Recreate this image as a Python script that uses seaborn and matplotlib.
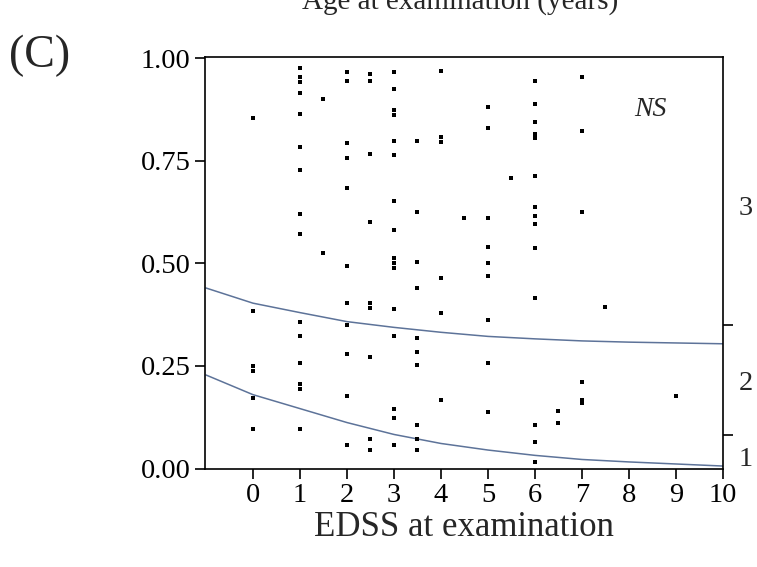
import matplotlib
matplotlib.use("Agg")
import matplotlib.pyplot as plt
import seaborn as sns
import pandas as pd

# ---- data ----
edss_points = (
    [0] * 6 + [1] * 15 + [1.5] * 2 + [2] * 11 + [2.5] * 9 + [3] * 16 + [3.5] * 10
    + [4] * 6 + [4.5] * 1 + [5] * 9 + [5.5] * 1 + [6] * 14 + [6.5] * 2 + [7] * 6
    + [7.5] * 1 + [9] * 1
)
ratio_points = [
    0.855, 0.384, 0.250, 0.238, 0.173, 0.096,
    0.976, 0.955, 0.942, 0.915, 0.863, 0.783, 0.728, 0.621, 0.571, 0.358, 0.323, 0.258, 0.207, 0.193, 0.096,
    0.900, 0.526,
    0.966, 0.945, 0.793, 0.758, 0.683, 0.494, 0.404, 0.350, 0.278, 0.177, 0.057,
    0.961, 0.945, 0.767, 0.601, 0.404, 0.392, 0.272, 0.071, 0.045,
    0.966, 0.924, 0.874, 0.862, 0.798, 0.764, 0.652, 0.581, 0.512, 0.500, 0.488, 0.389, 0.323, 0.146, 0.122, 0.057,
    0.798, 0.626, 0.504, 0.439, 0.317, 0.283, 0.252, 0.106, 0.071, 0.045,
    0.970, 0.809, 0.795, 0.465, 0.378, 0.167,
    0.611,
    0.880, 0.829, 0.611, 0.540, 0.500, 0.470, 0.363, 0.258, 0.137,
    0.707,
    0.945, 0.889, 0.844, 0.815, 0.806, 0.712, 0.637, 0.616, 0.596, 0.537, 0.415, 0.106, 0.065, 0.015,
    0.140, 0.110,
    0.954, 0.823, 0.626, 0.211, 0.167, 0.159,
    0.393,
    0.176,
]

curve_x = [-1, 0, 1, 2, 3, 4, 5, 6, 7, 8, 9, 10]
curve_upper = [0.440, 0.403, 0.380, 0.358, 0.344, 0.332, 0.322, 0.316, 0.311, 0.308, 0.306, 0.304]
curve_lower = [0.228, 0.180, 0.146, 0.112, 0.083, 0.061, 0.045, 0.032, 0.022, 0.016, 0.011, 0.006]

x_ticks = [0, 1, 2, 3, 4, 5, 6, 7, 8, 9, 10]
y_ticks = [0.00, 0.25, 0.50, 0.75, 1.00]
y_tick_labels = ["0.00", "0.25", "0.50", "0.75", "1.00"]
right_ticks = [0.081, 0.35]
right_label_pos = [0.03, 0.215, 0.64]
right_labels = ["1", "2", "3"]

# ---- styling ----
sns.set_style("ticks")
plt.rcParams["font.family"] = ["Liberation Serif", "DejaVu Serif"]

fig = plt.figure(figsize=(7.57, 5.67), dpi=100)
ax = fig.add_axes([205 / 757, 1 - 468.5 / 567, (723 - 205) / 757, (468.5 - 57) / 567])

pts = pd.DataFrame({"edss": edss_points, "ratio": ratio_points})
curves = pd.DataFrame({
    "x": curve_x * 2,
    "p": curve_upper + curve_lower,
    "which": ["upper"] * len(curve_x) + ["lower"] * len(curve_x),
})

sns.lineplot(data=curves, x="x", y="p", units="which", estimator=None,
             color="#5d7399", linewidth=1.1, ax=ax)
sns.scatterplot(data=pts, x="edss", y="ratio", marker="s", s=10,
                color="black", linewidth=0, ax=ax, zorder=3)

ax.set_xlim(-1.02, 10.0)
ax.set_ylim(0.0, 1.003)
ax.set_xticks(x_ticks)
ax.set_xticklabels([str(t) for t in x_ticks])
ax.set_yticks(y_ticks)
ax.set_yticklabels(y_tick_labels)
ax.tick_params(axis="both", labelsize=20.5, length=7.5, width=1.2, color="black",
               labelcolor="black", pad=3, direction="out")
ax.tick_params(axis="x", pad=3)
for sp in ax.spines.values():
    sp.set_visible(True)
    sp.set_color("black")
    sp.set_linewidth(1.2)
ax.set_xlabel("EDSS at examination", fontsize=25, labelpad=2)
ax.set_ylabel("")

# right-hand ordinal axis
ax2 = ax.twinx()
ax2.set_ylim(ax.get_ylim())
ax2.set_yticks(right_ticks)
ax2.set_yticklabels(["", ""])
ax2.set_yticks(right_label_pos, minor=True)
ax2.set_yticklabels(right_labels, minor=True)
ax2.tick_params(axis="y", which="major", length=7, width=1.2, color="black")
ax2.tick_params(axis="y", which="minor", length=0, labelsize=20.5, pad=11)
for sp in ax2.spines.values():
    sp.set_visible(False)

ax.text(8.46, 0.874, "NS", fontsize=20, fontstyle="italic", ha="center", va="center")

fig.text(9 / 757, 1 - 56 / 567, "(C)", fontsize=33, ha="left", va="center")
fig.text(460 / 757, 1 - 9 / 567, "Age at examination (years)", fontsize=21,
         ha="center", va="baseline")

fig.savefig("out.png", dpi=100)
